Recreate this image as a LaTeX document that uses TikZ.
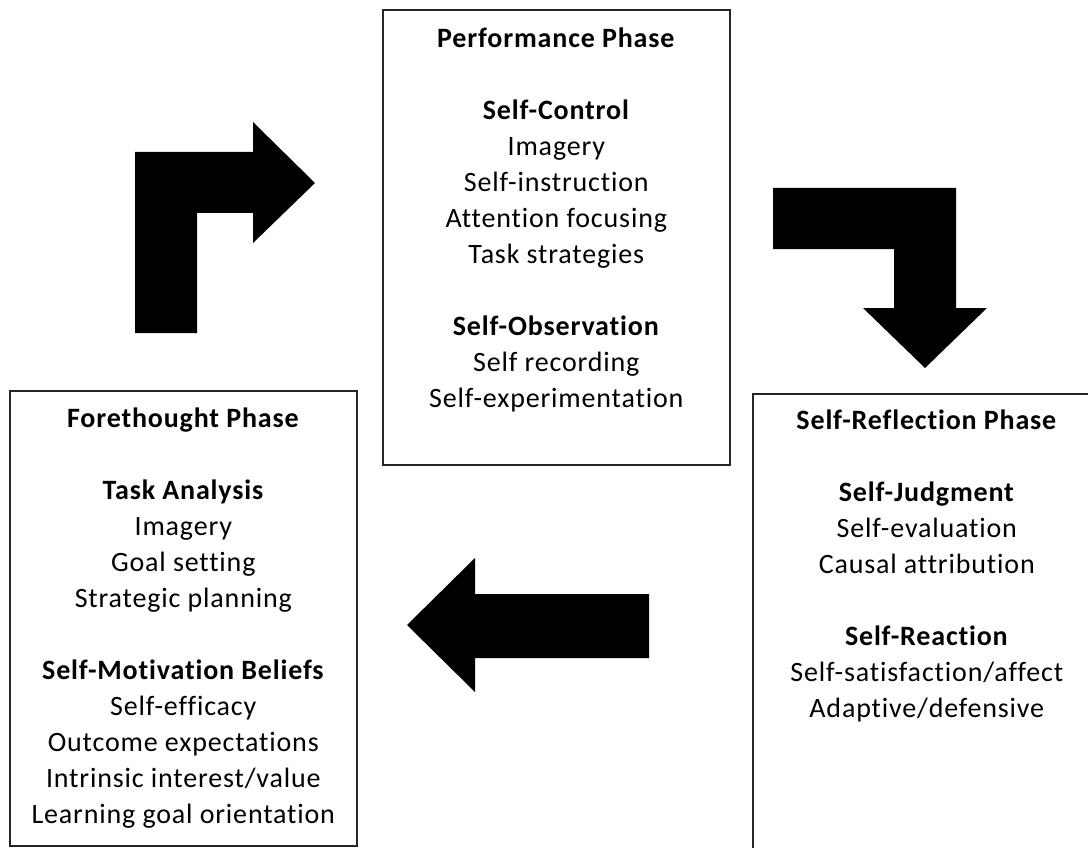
\documentclass[tikz,border=0pt]{standalone}
\usepackage{fontspec}
\setmainfont{Carlito}[Ligatures=NoCommon, LetterSpace=3]
\usetikzlibrary{positioning}

\begin{document}
\begin{tikzpicture}[x=1pt, y=-1pt,
	phase box/.style={draw=black!85, line width=1.6pt, rectangle, anchor=north west,
		minimum width=347pt, minimum height=455pt, inner sep=0pt},
	phase text/.style={align=center, inner sep=0pt, anchor=north,
		font=\fontsize{28}{36}\selectfont},
	block arrow/.style={fill=black}]
	\useasboundingbox (0,0) rectangle (1088,848);
	\clip (0,0) rectangle (1088,848);
	% the three phase boxes
	\node[phase box] (perf) at (382,9) {};
	\node[phase box] (fore) at (9,390) {};
	\node[phase box, minimum width=348pt, minimum height=470pt] (refl) at (752,393) {};
	% their contents
	\node[phase text, below=19pt of perf.north] (perftext)
	{\textbf{Performance Phase}\\[36pt]
		\textbf{Self-Control}\\
		Imagery\\
		Self-instruction\\
		Attention focusing\\
		Task strategies\\[36pt]
		\textbf{Self-Observation}\\
		Self recording\\
		Self-experimentation};
	\node[phase text, below=18pt of fore.north] (foretext)
	{\textbf{Forethought Phase}\\[36pt]
		\textbf{Task Analysis}\\
		Imagery\\
		Goal setting\\
		Strategic planning\\[36pt]
		\textbf{Self-Motivation Beliefs}\\
		Self-efficacy\\
		Outcome expectations\\
		Intrinsic interest/value\\
		Learning goal orientation};
	\node[phase text, below=17pt of refl.north] (refltext)
	{\textbf{Self-Reflection Phase}\\[36pt]
		\textbf{Self-Judgment}\\
		Self-evaluation\\
		Causal attribution\\[36pt]
		\textbf{Self-Reaction}\\
		Self-satisfaction/affect\\
		Adaptive/defensive};
	% block arrows between the phases
	\fill[block arrow] (135,333) -- (135,152) -- (253,152) -- (253,122) --
	(315,183) -- (253,243) -- (253,213) -- (197,213) -- (197,333) -- cycle;
	\fill[block arrow] (773,188) -- (956,188) -- (956,308) -- (987,308) --
	(925,368) -- (863,308) -- (894,308) -- (894,249) -- (773,249) -- cycle;
	\fill[block arrow] (649,594) -- (475,594) -- (475,558) -- (407,625) --
	(475,692) -- (475,658) -- (649,658) -- cycle;
\end{tikzpicture}
\end{document}
